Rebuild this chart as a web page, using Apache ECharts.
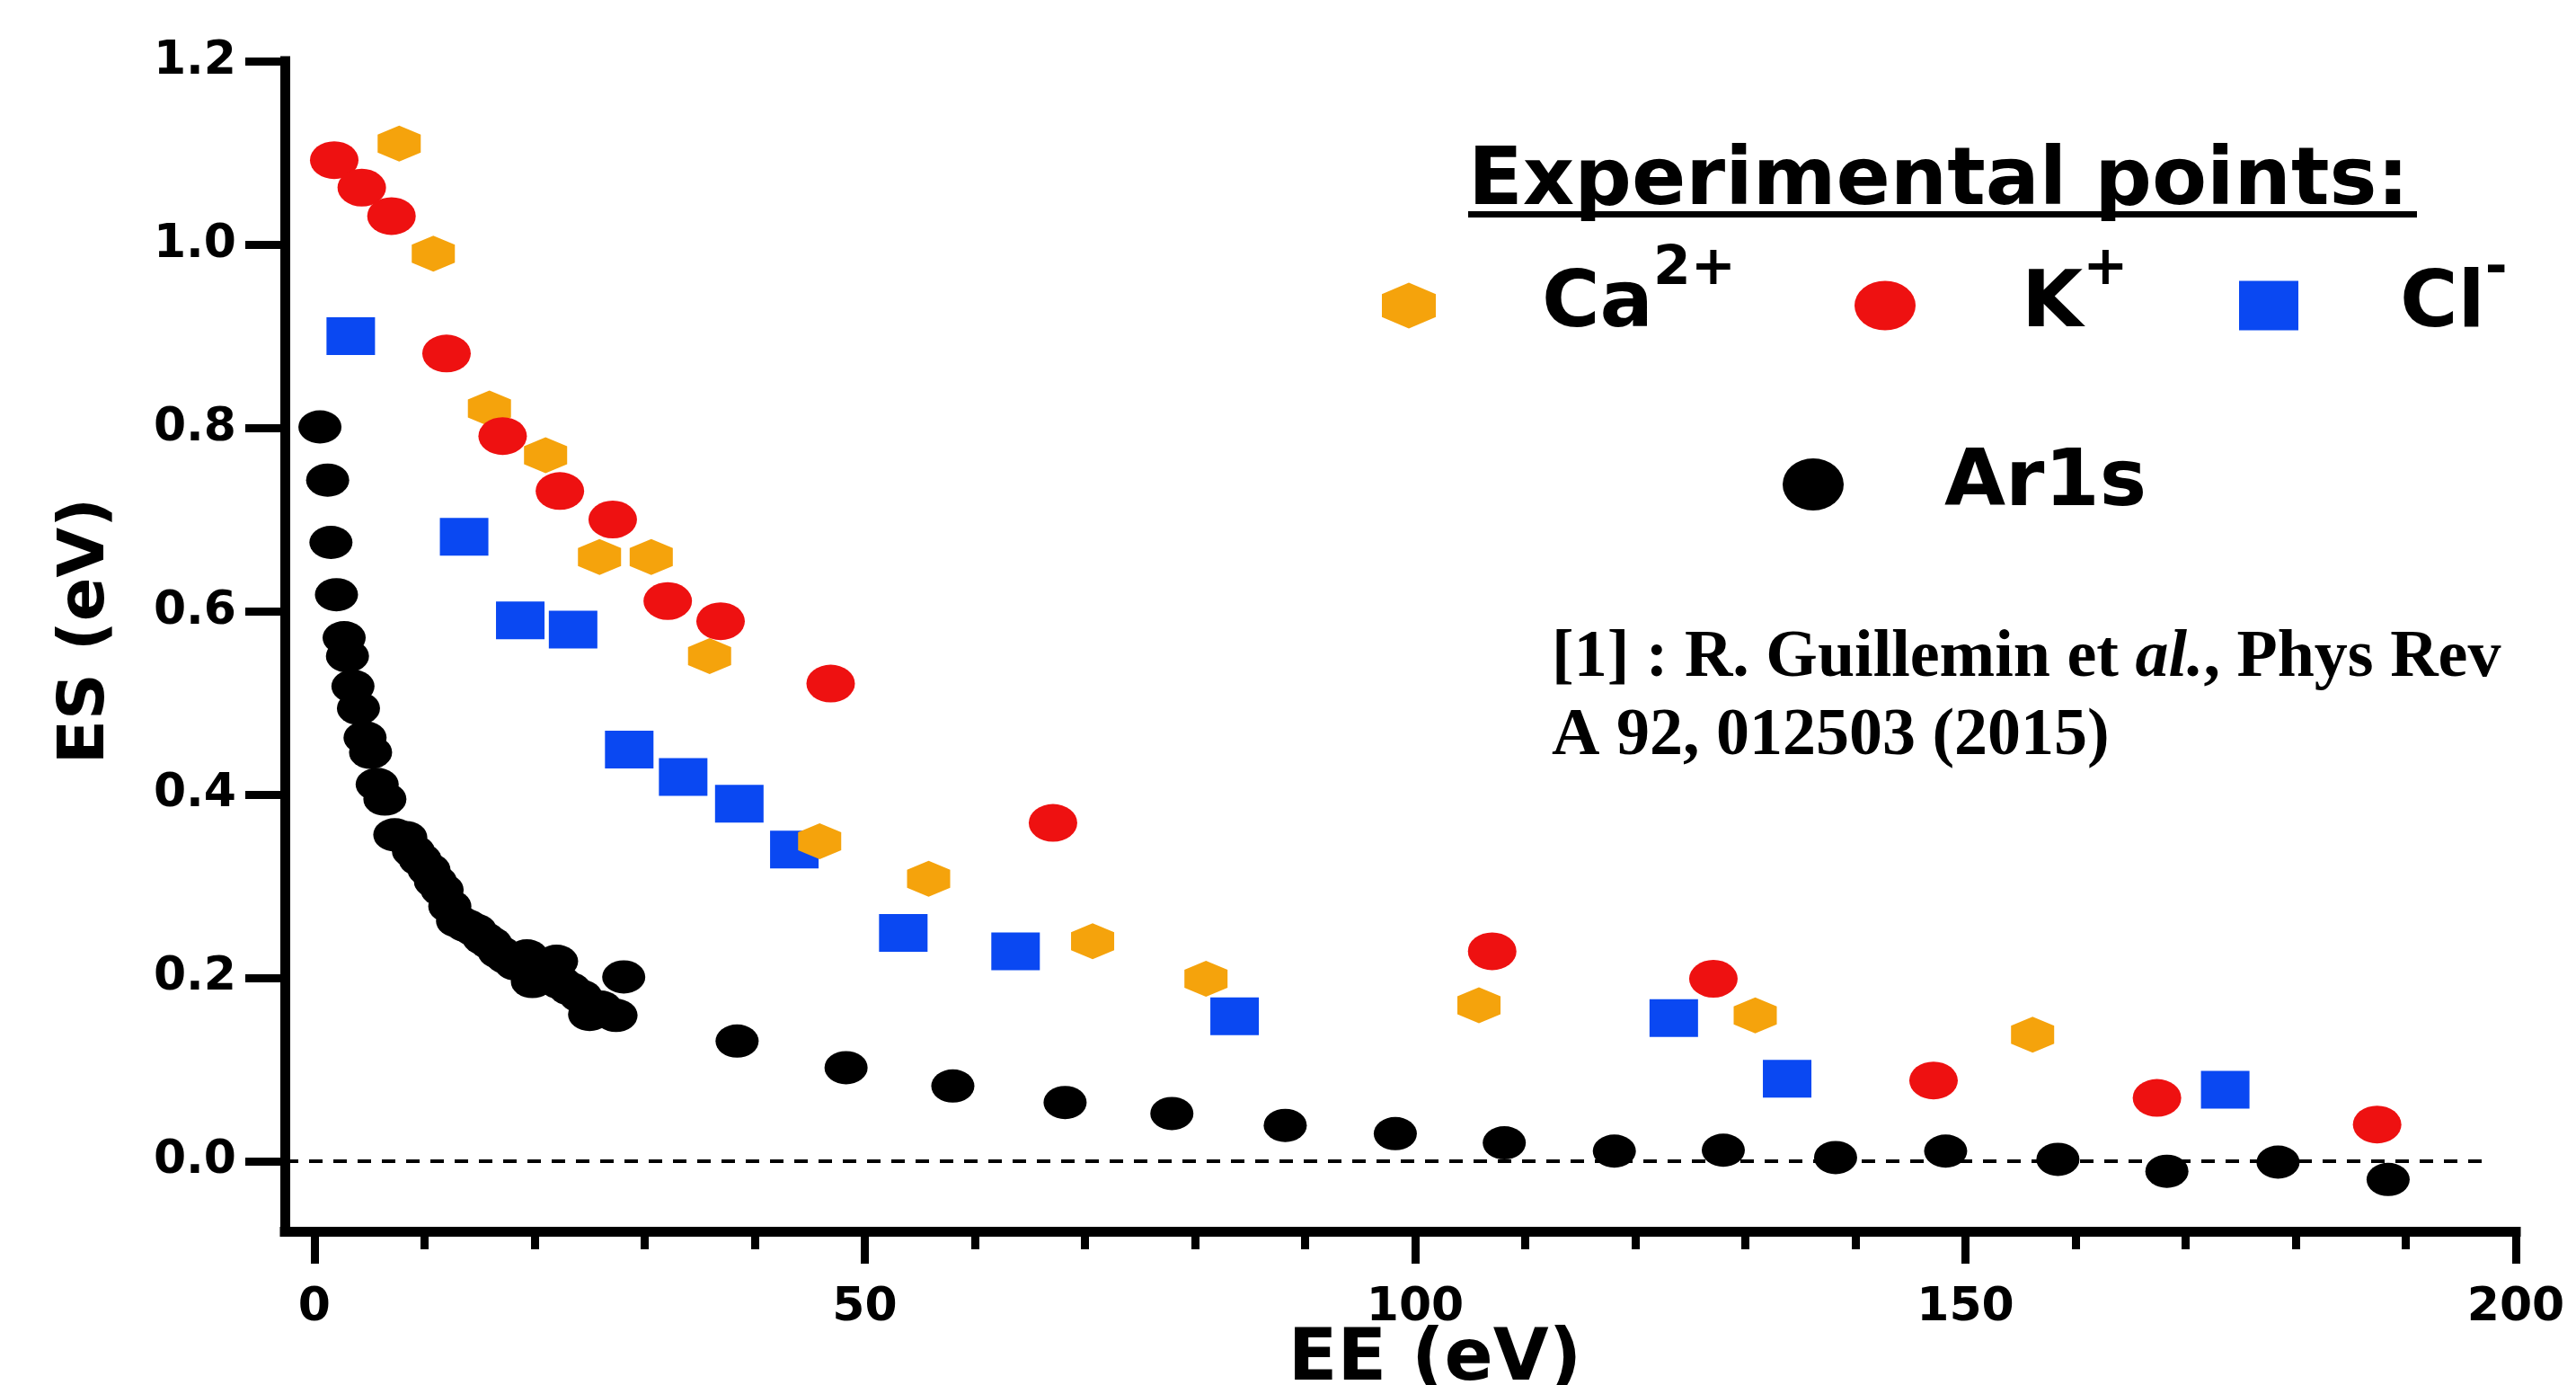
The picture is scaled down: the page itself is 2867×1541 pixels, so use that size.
<!DOCTYPE html>
<html><head><meta charset="utf-8">
<script src="https://cdn.jsdelivr.net/npm/echarts@6/dist/echarts.min.js"></script>
<style>html,body{margin:0;padding:0;background:#fff;} #c{width:2867px;height:1541px;}</style>
</head><body><div id="c"></div>
<script>
// ---- data ----
const xTicks = [0, 50, 100, 150, 200];
const xMinorTicks = [10, 20, 30, 40, 60, 70, 80, 90, 110, 120, 130, 140, 160, 170, 180, 190];
const yTicks = [0, 0.2, 0.4, 0.6, 0.8, 1.0, 1.2];

const caEE = [7.7, 10.8, 15.9, 21.0, 25.9, 30.6, 35.9, 45.9, 55.8, 70.7, 81.0, 105.8, 130.9, 156.1];
const caES = [1.110, 0.990, 0.821, 0.770, 0.659, 0.659, 0.551, 0.349, 0.308, 0.240, 0.199, 0.170, 0.159, 0.138];

const kEE = [1.8, 4.3, 7.0, 12.0, 17.1, 22.3, 27.1, 32.1, 36.9, 46.9, 67.1, 107.0, 127.1, 147.1, 167.4, 187.4];
const kES = [1.092, 1.062, 1.031, 0.881, 0.791, 0.731, 0.700, 0.611, 0.589, 0.521, 0.369, 0.229, 0.199, 0.088, 0.069, 0.040];

const clEE = [3.3, 13.6, 18.7, 23.5, 28.6, 33.5, 38.6, 43.6, 53.5, 63.7, 83.6, 123.5, 133.8, 173.6];
const clES = [0.900, 0.681, 0.590, 0.580, 0.449, 0.419, 0.390, 0.340, 0.249, 0.229, 0.158, 0.156, 0.090, 0.078];

const arEE = [0.5, 1.2, 1.5, 2.0, 2.7, 3.0, 3.5, 4.0, 4.6, 5.1, 5.7, 6.4, 7.3, 8.3, 9.0, 9.6, 10.4, 11.0, 11.6, 12.3,
              13.0, 13.8, 14.6, 15.4, 16.0, 16.8, 17.5, 18.3, 19.3, 19.8, 20.6, 21.4, 22.0, 22.3, 23.2, 24.2, 25.0, 26.0, 27.4, 28.1,
              38.4, 48.3, 58.0, 68.2, 77.9, 88.2, 98.2, 108.1, 118.1, 128.0, 138.2, 148.2, 158.4, 168.3, 178.4, 188.4];
const arES = [0.801, 0.743, 0.675, 0.618, 0.571, 0.551, 0.518, 0.494, 0.462, 0.446, 0.411, 0.395, 0.356, 0.353, 0.338, 0.329, 0.318, 0.305, 0.296, 0.278,
              0.262, 0.257, 0.252, 0.243, 0.238, 0.228, 0.222, 0.215, 0.224, 0.196, 0.205, 0.210, 0.218, 0.195, 0.188, 0.180, 0.160, 0.168, 0.159, 0.201,
              0.131, 0.102, 0.082, 0.064, 0.052, 0.039, 0.030, 0.020, 0.011, 0.012, 0.004, 0.011, 0.002, -0.011, -0.001, -0.020];

const zeroLineEE = [-2.69, 197];
const zeroLineES = [0, 0];

// ---- helpers ----
const zip = (a, b) => a.map((v, i) => [v, b[i]]);
const HEX = 'path://M50,0 L100,25 L100,75 L50,100 L0,75 L0,25 Z';
const ELL = 'path://M0,50 A50,50 0 1 1 100,50 A50,50 0 1 1 0,50 Z';
const SANS = '"DejaVu Sans", "Liberation Sans", Arial, sans-serif';
const SERIF = '"Liberation Serif", "Times New Roman", serif';
const ORANGE = '#F5A30C', RED = '#EE1111', BLUE = '#0A48F2', BLACK = '#000000';

const mainTxt = { fontSize: 88, fontWeight: 'bold', fontFamily: SANS, color: '#000' };
const supTxt = { fontSize: 60, fontWeight: 'bold', fontFamily: SANS, color: '#000', lineHeight: 56, verticalAlign: 'top' };

function legendFor(name, icon, w, h, left, top, label, sup, pad) {
  return {
    data: [name], icon: icon, itemWidth: w, itemHeight: h, left: left, top: top,
    padding: 0, selectedMode: false, symbolKeepAspect: false, orient: 'horizontal',
    formatter: () => sup ? '{m|' + label + '}{s|' + sup + '}' : '{m|' + label + '}',
    textStyle: {
      rich: {
        m: Object.assign({}, mainTxt, { padding: [0, 0, 0, pad], lineHeight: sup ? 140 : 90 }),
        s: supTxt
      }
    }
  };
}

const chart = echarts.init(document.getElementById('c'));
chart.setOption({
  animation: false,
  backgroundColor: '#fff',
  grid: { left: 317, right: 67, top: 68, bottom: 171, containLabel: false, outerBoundsMode: 'none' },
  xAxis: [{
    type: 'value', min: -2.69, max: 200, position: 'bottom',
    axisLine: { show: true, onZero: false, lineStyle: { color: '#000', width: 11, cap: 'square' } },
    axisTick: { show: true, customValues: xTicks, length: 36, lineStyle: { color: '#000', width: 9 } },
    axisLabel: { show: true, customValues: xTicks, margin: 59, fontSize: 52, fontWeight: 'bold', fontFamily: SANS, color: '#000' },
    splitLine: { show: false },
    name: 'EE (eV)', nameLocation: 'middle', nameGap: 104, nameMoveOverlap: false,
    nameTextStyle: { fontSize: 80, fontWeight: 'bold', fontFamily: SANS, color: '#000', padding: [0, 0, 0, 77] }
  }, {
    type: 'value', min: -2.69, max: 200, position: 'bottom', gridIndex: 0,
    axisLine: { show: false, onZero: false },
    axisTick: { show: true, customValues: xMinorTicks, length: 20, lineStyle: { color: '#000', width: 9 } },
    axisLabel: { show: false },
    splitLine: { show: false }
  }],
  yAxis: {
    type: 'value', min: -0.0765, max: 1.2,
    axisLine: { show: true, onZero: false, lineStyle: { color: '#000', width: 11, cap: 'square' } },
    axisTick: { show: true, customValues: yTicks, length: 44, lineStyle: { color: '#000', width: 9 } },
    axisLabel: { show: true, customValues: yTicks, margin: 54, fontSize: 52, fontWeight: 'bold', fontFamily: SANS, color: '#000',
                 formatter: v => v.toFixed(1) },
    splitLine: { show: false },
    name: 'ES (eV)', nameLocation: 'middle', nameGap: 185, nameRotate: 90, nameMoveOverlap: false,
    nameTextStyle: { fontSize: 72, fontWeight: 'bold', fontFamily: SANS, color: '#000', padding: [0, 0, 0, 34] }
  },
  legend: [
    legendFor('Ca2+', HEX, 60, 51, 1538, 270, 'Ca', '2+', 113),
    legendFor('K+', ELL, 68, 55, 2064, 270, 'K', '+', 113),
    legendFor('Cl-', 'rect', 66, 55, 2492, 270, 'Cl', '-', 108),
    legendFor('Ar1s', ELL, 68, 58, 1984, 495, 'Ar1s', null, 107)
  ],
  graphic: [
    { type: 'text', x: 1634, y: 204, style: { text: 'Experimental points:', fill: '#000', font: 'bold 89px ' + SANS, align: 'left', verticalAlign: 'middle' } },
    { type: 'rect', shape: { x: 1634, y: 235, width: 1056, height: 7 }, style: { fill: '#000' } },
    { type: 'text', x: 1727, y: 733, style: {
        text: '{b|[1] : R. Guillemin et }{i|al.}{b|, Phys Rev}', align: 'left', verticalAlign: 'middle',
        rich: {
          b: { fontSize: 74, fontWeight: 'bold', fontFamily: SERIF, fill: '#000' },
          i: { fontSize: 74, fontWeight: 'bold', fontStyle: 'italic', fontFamily: SERIF, fill: '#000' }
        } } },
    { type: 'text', x: 1727, y: 820, style: { text: 'A 92, 012503 (2015)', fill: '#000', font: 'bold 74px ' + SERIF, align: 'left', verticalAlign: 'middle' } }
  ],
  series: [
    { type: 'line', name: 'zero', data: zip(zeroLineEE, zeroLineES), symbol: 'none', silent: true,
      lineStyle: { color: '#000', width: 4, type: [15, 12] }, z: 1 },
    { type: 'scatter', name: 'Cl-', data: zip(clEE, clES), symbol: 'rect', symbolSize: [54, 42],
      itemStyle: { color: BLUE, opacity: 1 }, z: 2 },
    { type: 'scatter', name: 'Ca2+', data: zip(caEE, caES), symbol: HEX, symbolSize: [48, 40],
      itemStyle: { color: ORANGE, opacity: 1 }, z: 3 },
    { type: 'scatter', name: 'K+', data: zip(kEE, kES), symbol: ELL, symbolSize: [54, 42],
      itemStyle: { color: RED, opacity: 1 }, z: 4 },
    { type: 'scatter', name: 'Ar1s', data: zip(arEE, arES), symbol: ELL, symbolSize: [48, 37],
      itemStyle: { color: BLACK, opacity: 1 }, z: 5 }
  ]
});
</script>
</body></html>
